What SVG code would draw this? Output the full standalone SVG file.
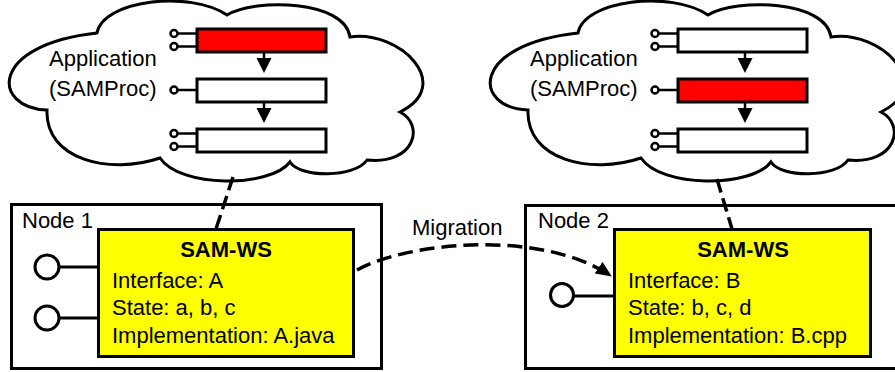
<svg xmlns="http://www.w3.org/2000/svg" width="895" height="372" viewBox="0 0 895 372">
<style>
  text { font-family: "Liberation Sans", Arial, sans-serif; font-size: 22px; fill: #000; }
  .b { font-weight: bold; }
  .cloud { fill: #fff; stroke: #000; stroke-width: 3; }
  .blk { fill: #fff; stroke: #000; stroke-width: 3; }
  .red { fill: #ff0000; stroke: #000; stroke-width: 3; }
  .port { fill: #fff; stroke: #000; stroke-width: 2.5; }
  .pl { stroke: #000; stroke-width: 2.5; fill: none; }
  .node { fill: #fff; stroke: #000; stroke-width: 3; }
  .sam { fill: #ffff00; stroke: #000; stroke-width: 3; }
  .iface { fill: #fff; stroke: #000; stroke-width: 3; }
  .il { stroke: #000; stroke-width: 3; fill: none; }
  .dash { stroke: #000; stroke-width: 3.5; fill: none; stroke-dasharray: 14 6; }
  .mig { stroke: #000; stroke-width: 3.5; fill: none; stroke-dasharray: 15 7; }
</style>
<defs>
  <path id="cloudShape" d="M97,33 C103,0 190,-10 227,15 C255,-2 345,0 350,37 C400,30 455,85 400,112 C425,125 415,165 367,160 C355,178 300,178 290,162 C270,188 180,188 160,158 C110,175 45,160 47,110 C-8,108 -12,45 97,33 Z"/>
  <g id="procs">
    <line class="pl" x1="264" y1="52" x2="264" y2="60"/>
    <polygon points="256.5,58 271.5,58 264,73"/>
    <line class="pl" x1="264" y1="102" x2="264" y2="110"/>
    <polygon points="256.5,108 271.5,108 264,123"/>
    <line class="pl" x1="178" y1="33.5" x2="197" y2="33.5"/>
    <line class="pl" x1="178" y1="46.5" x2="197" y2="46.5"/>
    <circle class="port" cx="174" cy="33.5" r="3.5"/>
    <circle class="port" cx="174" cy="46.5" r="3.5"/>
    <line class="pl" x1="178" y1="90" x2="197" y2="90"/>
    <circle class="port" cx="174" cy="90" r="3.5"/>
    <line class="pl" x1="178" y1="133.5" x2="197" y2="133.5"/>
    <line class="pl" x1="178" y1="146.5" x2="197" y2="146.5"/>
    <circle class="port" cx="174" cy="133.5" r="3.5"/>
    <circle class="port" cx="174" cy="146.5" r="3.5"/>
  </g>
  <marker id="ah" markerWidth="16" markerHeight="14" refX="15" refY="7" orient="auto" markerUnits="userSpaceOnUse">
    <polygon points="0,0 16,7 0,14" fill="#000"/>
  </marker>
</defs>

<g id="app1">
  <use href="#cloudShape" class="cloud"/>
  <use href="#procs"/>
  <rect class="red" x="197" y="29" width="129" height="23"/>
  <rect class="blk" x="197" y="79" width="129" height="23"/>
  <rect class="blk" x="197" y="129" width="129" height="23"/>
  <text x="49" y="66">Application</text>
  <text x="49" y="96">(SAMProc)</text>
</g>

<g id="app2" transform="translate(481,0)">
  <use href="#cloudShape" class="cloud"/>
  <use href="#procs"/>
  <rect class="blk" x="197" y="29" width="129" height="23"/>
  <rect class="red" x="197" y="79" width="129" height="23"/>
  <rect class="blk" x="197" y="129" width="129" height="23"/>
  <text x="49" y="66">Application</text>
  <text x="49" y="96">(SAMProc)</text>
</g>

<g id="node1">
  <rect class="node" x="11.5" y="204.5" width="370" height="164"/>
  <text x="22" y="228">Node 1</text>
</g>

<g id="node2">
  <rect class="node" x="525.5" y="205.5" width="400" height="163"/>
  <text x="538" y="228">Node 2</text>
</g>

<g id="samws1">
  <line class="il" x1="59" y1="267" x2="98" y2="267"/>
  <line class="il" x1="59" y1="318" x2="98" y2="318"/>
  <circle class="iface" cx="47" cy="267" r="12"/>
  <circle class="iface" cx="47" cy="318" r="12"/>
  <rect class="sam" x="98.5" y="229.5" width="255" height="127"/>
  <text class="b" x="226" y="257" text-anchor="middle">SAM-WS</text>
  <text x="112" y="288">Interface: A</text>
  <text x="112" y="315">State: a, b, c</text>
  <text x="112" y="343">Implementation: A.java</text>
</g>

<g id="samws2">
  <line class="il" x1="573" y1="296" x2="614" y2="296"/>
  <circle class="iface" cx="562" cy="295" r="11.5"/>
  <rect class="sam" x="614.5" y="229.5" width="256" height="127"/>
  <text class="b" x="743" y="257" text-anchor="middle">SAM-WS</text>
  <text x="628" y="288">Interface: B</text>
  <text x="628" y="315">State: b, c, d</text>
  <text x="628" y="343">Implementation: B.cpp</text>
</g>

<g id="connectors">
  <line class="dash" x1="233" y1="177" x2="216" y2="229"/>
  <line class="dash" x1="717" y1="179" x2="732" y2="229"/>
  <path class="mig" d="M357,270 C405,243 540,228 611,276" marker-end="url(#ah)"/>
  <text x="412" y="235">Migration</text>
</g>
</svg>
